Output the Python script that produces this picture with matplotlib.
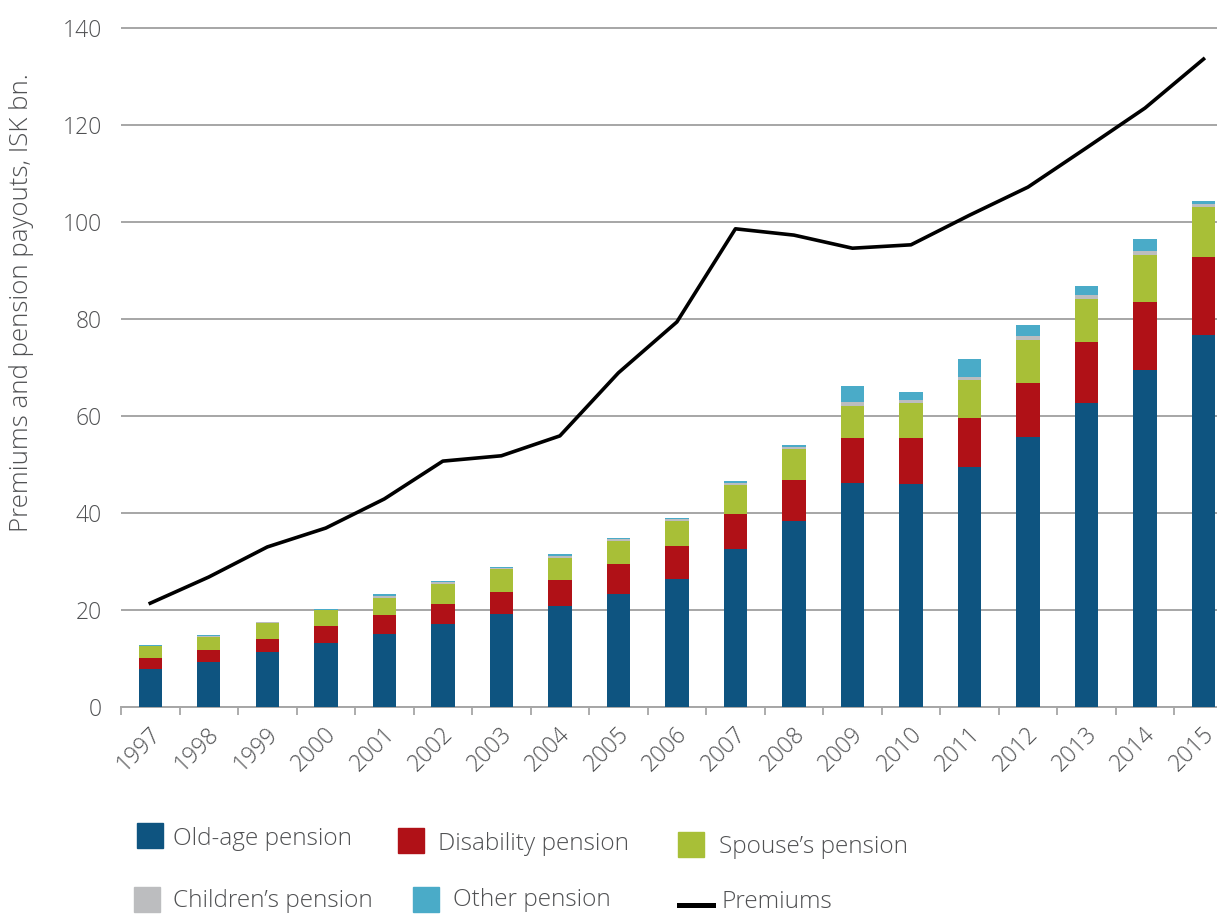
import matplotlib.pyplot as plt
import matplotlib.patches as mpatches
import matplotlib.lines as mlines
from matplotlib.transforms import ScaledTranslation
import numpy as np

years = ['1997', '1998', '1999', '2000', '2001', '2002', '2003', '2004', '2005', '2006',
         '2007', '2008', '2009', '2010', '2011', '2012', '2013', '2014', '2015']
old_age = [7.8, 9.3, 11.3, 13.1, 15.1, 17.1, 19.1, 20.8, 23.4, 26.3, 32.5, 38.3, 46.1, 45.9, 49.4, 55.7, 62.6, 69.5, 76.7]
disability = [2.4, 2.5, 2.8, 3.5, 3.8, 4.1, 4.7, 5.4, 6.1, 6.8, 7.2, 8.5, 9.3, 9.5, 10.1, 11.2, 12.7, 14.1, 16.1]
spouse = [2.3, 2.6, 3.2, 3.3, 3.6, 4.2, 4.6, 4.6, 4.8, 5.3, 6.1, 6.4, 6.7, 7.2, 8.0, 8.8, 8.9, 9.7, 10.3]
children = [0.1, 0.3, 0.2, 0.2, 0.4, 0.4, 0.3, 0.4, 0.3, 0.4, 0.3, 0.5, 0.8, 0.7, 0.5, 0.7, 0.7, 0.7, 0.6]
other = [0.1, 0.1, 0.1, 0.2, 0.4, 0.2, 0.2, 0.3, 0.2, 0.2, 0.4, 0.4, 3.2, 1.6, 3.8, 2.3, 1.9, 2.6, 0.7]
premiums = [21.4, 26.8, 33.0, 36.9, 42.9, 50.7, 51.8, 55.9, 68.9, 79.4, 98.6, 97.3, 94.6, 95.3, 101.4, 107.2, 115.3, 123.5, 133.6]

series_names = ['Old-age pension', 'Disability pension', "Spouse\u2019s pension",
                "Children\u2019s pension", 'Other pension']
series_colors = ['#0e5480', '#b01117', '#a8bf37', '#bcbdbf', '#4aabc8']

TEXT = '#505153'
GRID = '#a6a6a6'
W, H = 1217, 914

plt.rcParams.update({'font.family': ['Open Sans', 'DejaVu Sans'], 'font.weight': 'light',
                     'font.size': 16.5})

fig = plt.figure(figsize=(W / 100, H / 100), dpi=100)
# axes runs past the right edge, the original is cropped there
ax = fig.add_axes([121 / W, 1 - 707 / H, 1111.8 / W, (707 - 25.6) / H])

x = np.arange(len(years))
bottom = np.zeros(len(years))
for vals, color in zip([old_age, disability, spouse, children, other], series_colors):
    ax.bar(x, vals, width=0.4, bottom=bottom, color=color, zorder=3)
    bottom += np.array(vals)

ax.plot(x, premiums, color='black', linewidth=2.6, zorder=4)

ax.set_xlim(-0.5, len(years) - 0.5)
ax.set_ylim(0, 140.5)
ax.set_yticks(np.arange(0, 141, 20))
ax.yaxis.grid(True, color=GRID, linewidth=1.4, zorder=0)
ax.tick_params(axis='y', length=0, pad=14, labelcolor=TEXT, labelsize=16.5)

ax.set_xticks(x)
ax.set_xticklabels(years, rotation=45, ha='right', va='center', rotation_mode='anchor')
ax.set_xticks(np.arange(-0.5, len(years)), minor=True)
ax.tick_params(axis='x', which='major', length=0, pad=17, labelcolor=TEXT, labelsize=16.5)
ax.tick_params(axis='x', which='minor', length=6, width=1.3, color=GRID)
for lab in ax.get_xticklabels():
    lab.set_transform(lab.get_transform() + ScaledTranslation(0.07, 0, fig.dpi_scale_trans))

for side in ['left', 'right', 'top']:
    ax.spines[side].set_visible(False)
ax.spines['bottom'].set_color(GRID)
ax.spines['bottom'].set_linewidth(1.4)

fig.text(22 / W, 1 - 303 / H, 'Premiums and pension payouts, ISK bn.', rotation=90,
         ha='center', va='center', color=TEXT, fontsize=18.6)

# legend laid out by hand to follow the original's staggered rows
legend_slots = [(137, 823, 173, 839), (398, 828, 438, 844), (678, 832, 719, 847),
                (134, 887, 173, 901), (413, 887, 453, 900)]
for (px, py, tx, ty), name, color in zip(legend_slots, series_names, series_colors):
    fig.add_artist(mpatches.Rectangle((px / W, 1 - (py + 25) / H), 26 / W, 25 / H,
                                      transform=fig.transFigure, color=color))
    fig.text(tx / W, 1 - ty / H, name, ha='left', va='center', color=TEXT, fontsize=17.6)
fig.add_artist(mlines.Line2D([679 / W, 713 / W], [1 - 905 / H, 1 - 905 / H],
                             transform=fig.transFigure, color='black', linewidth=3.6))
fig.text(722 / W, 1 - 902 / H, 'Premiums', ha='left', va='center', color=TEXT, fontsize=17.6)

fig.savefig('out.png', dpi=100)
